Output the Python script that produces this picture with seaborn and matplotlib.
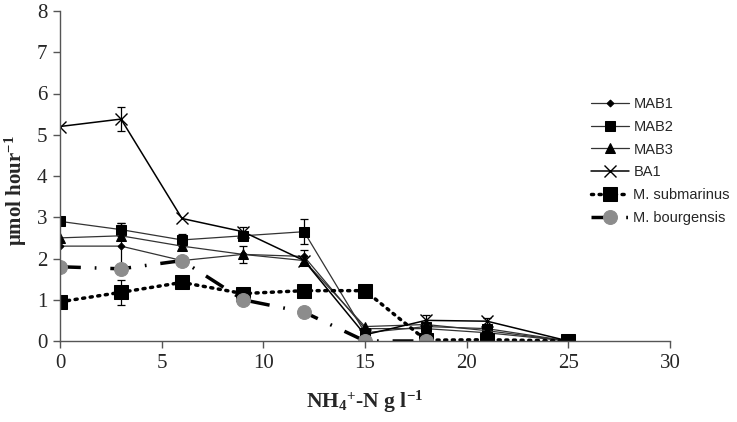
import matplotlib
matplotlib.use("Agg")
import matplotlib.pyplot as plt
import seaborn as sns
import pandas as pd
import numpy as np

sns.set_theme(style="white")
plt.rcParams['font.family'] = ['Liberation Serif', 'DejaVu Serif']
plt.rcParams['mathtext.fontset'] = 'custom'
plt.rcParams['mathtext.rm'] = 'Liberation Serif'
plt.rcParams['mathtext.bf'] = 'Liberation Serif:bold'
plt.rcParams['mathtext.it'] = 'Liberation Serif:italic'

x_main = [0, 3, 6, 9, 12, 15, 18, 21, 25]
mab1 = [2.3, 2.3, 1.95, 2.1, 2.05, 0.3, 0.3, 0.2, 0.0]
mab2 = [2.9, 2.7, 2.45, 2.55, 2.65, 0.2, 0.35, 0.3, 0.0]
mab3 = [2.5, 2.55, 2.3, 2.1, 1.95, 0.35, 0.4, 0.25, 0.0]
ba1 = [5.2, 5.38, 2.97, 2.65, 1.95, 0.15, 0.5, 0.48, 0.0]
subm = [0.95, 1.18, 1.42, 1.15, 1.22, 1.22, 0.02, 0.03, 0.0]
x_bourg = [0, 3, 6, 9, 12, 15, 18]
bourg = [1.8, 1.75, 1.95, 1.0, 0.7, 0.0, 0.0]

# error bars (x, y, err)
err_ba1 = ([3, 9, 18, 21], [5.38, 2.65, 0.5, 0.48], [0.3, 0.12, 0.12, 0.08])
err_mab2 = ([3, 6, 12], [2.7, 2.45, 2.65], [0.15, 0.15, 0.3])
err_mab1 = ([3, 12], [2.3, 2.05], [0.55, 0.15])
err_mab3 = ([9], [2.1], [0.2])
err_subm = ([3], [1.18], [0.3])

fig = plt.figure(figsize=(7.37, 4.22), dpi=100)
ax = fig.add_axes([60/737, 1-341/422, 610/737, 330/422])

series = [
    ("MAB1", x_main, mab1, dict(color="#333333", lw=0.9, marker="D", ms=3.5, mfc="black", mec="black")),
    ("MAB2", x_main, mab2, dict(color="#333333", lw=0.9, marker="s", ms=7, mfc="black", mec="black")),
    ("MAB3", x_main, mab3, dict(color="#333333", lw=0.9, marker="^", ms=7, mfc="black", mec="black")),
    ("BA1", x_main, ba1, dict(color="black", lw=1.1, marker="x", ms=8, mew=1.0, mec="black")),
    ("M. submarinus", x_main, subm, dict(color="black", lw=2.5, ls=(0, (0.6, 1.6)), marker="s", ms=10, mfc="black", mec="black", dash_capstyle="round")),
    ("M. bourgensis", x_bourg, bourg, dict(color="black", lw=2.5, ls=(0, (6, 4, 0.5, 4)), marker="o", ms=10, mfc="#8c8c8c", mec="#8c8c8c")),
]

for name, xs, ys, kw in series:
    df = pd.DataFrame({"x": xs, "y": ys})
    sns.lineplot(data=df, x="x", y="y", ax=ax, label=name, estimator=None, sort=False, **kw)

for (xs, ys, es) in [err_ba1, err_mab2, err_mab1, err_mab3, err_subm]:
    ax.errorbar(xs, ys, yerr=es, fmt="none", ecolor="black", elinewidth=0.9, capsize=3, capthick=0.9, zorder=1)

ax.set_xlim(0, 30)
ax.set_ylim(0, 8)
ax.set_xticks(range(0, 31, 5))
ax.set_yticks(range(0, 9))
for s in ["top", "right"]:
    ax.spines[s].set_visible(False)
for s in ["left", "bottom"]:
    ax.spines[s].set_color("#555555")
    ax.spines[s].set_linewidth(1.0)
ax.tick_params(axis="both", direction="out", length=5, width=1, color="#555555",
               labelsize=15, pad=4, bottom=True, left=True)

ax.set_xlabel(r"NH$_\mathbf{4}$$^\mathbf{+}$-N g l$^\mathbf{-1}$", fontsize=15.5, fontweight="bold", labelpad=12)
ax.set_ylabel(r"μmol hour$^\mathbf{-1}$", fontsize=15, fontweight="bold")
ax.yaxis.set_label_coords(-0.05, 0.455)

leg = ax.legend(loc="upper left", bbox_to_anchor=(591/737, 1-97/422), bbox_transform=fig.transFigure,
                frameon=False, prop={"family": "Liberation Sans", "size": 10.5},
                handlelength=2.6, labelspacing=0.6, handletextpad=0.3, borderpad=0, borderaxespad=0)

fig.savefig("out.png", dpi=100)
